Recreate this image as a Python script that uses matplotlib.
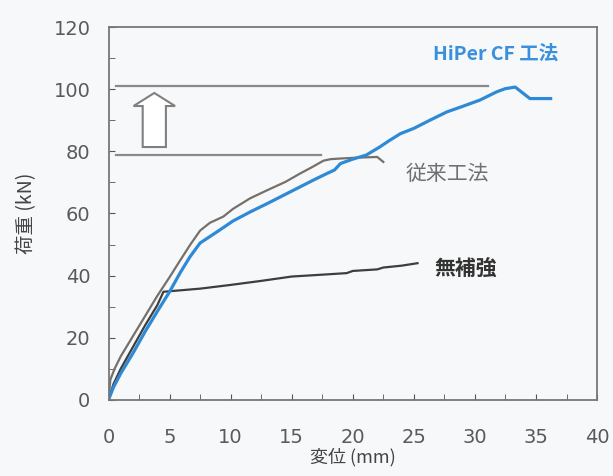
import matplotlib.pyplot as plt
from matplotlib.patches import FancyArrow
from matplotlib.ticker import MultipleLocator

plt.rcParams['font.family'] = ['Noto Sans CJK JP', 'DejaVu Sans']

# HiPer CF 工法
hiper_x = [0, 0.4, 1.0, 2.0, 2.5, 3.0, 4.0, 5.0, 5.85, 6.66, 7.5, 8.85, 10.2, 11.6,
           13.0, 14.4, 15.7, 16.8, 17.9, 18.5, 19.0, 20.0, 21.1, 22.2, 23.0, 23.9, 25.0,
           26.3, 27.7, 29.0, 30.4, 31.8, 32.5, 33.3, 34.5, 36.2]
hiper_y = [0, 4, 8.5, 15, 18.5, 22, 28.5, 34.8, 40.8, 46, 50.5, 54, 57.6, 60.5,
           63.2, 66, 68.6, 70.8, 72.9, 74, 76.1, 77.5, 78.8, 81.4, 83.5, 85.7, 87.4,
           90, 92.7, 94.5, 96.5, 99.2, 100.2, 100.7, 97, 97]

# 従来工法
conv_x = [0, 0.15, 0.5, 1.0, 2.0, 3.0, 4.0, 5.0, 5.85, 6.7, 7.5, 8.3, 9.4, 10.2,
          11.6, 13.0, 14.5, 15.7, 16.7, 17.6, 18.2, 19.0, 20.5, 22.0, 22.5]
conv_y = [0, 6.5, 10, 14, 20.5, 27, 33.5, 39.5, 44.8, 50, 54.5, 57, 59, 61.5,
          64.9, 67.5, 70.2, 72.9, 75.0, 77.0, 77.5, 77.7, 78.0, 78.2, 76.6]

# 無補強
none_x = [0, 0.4, 1.0, 2.0, 3.0, 4.0, 4.5, 7.5, 10.0, 12.5, 15.0, 17.5, 19.5, 20.0, 22.0,
          22.5, 24.0, 25.3]
none_y = [0, 5, 10, 17, 24, 30.5, 34.8, 35.8, 37, 38.3, 39.7, 40.3, 40.8, 41.5, 42,
          42.6, 43.2, 44]

# 耐力レベル
level_x0 = [0.6, 0.6]
level_x1 = [31.1, 17.4]
level_y = [101.0, 78.8]

fig = plt.figure(figsize=(6.13, 4.76), dpi=100, facecolor='#f6f8f9')
ax = fig.add_axes([0.177, 0.16, 0.797, 0.783])
ax.set_facecolor('#f6f8f9')

for x0, x1, y in zip(level_x0, level_x1, level_y):
    ax.plot([x0, x1], [y, y], color='#8a8a8a', lw=1.6)

ax.add_patch(FancyArrow(3.75, 81.4, 0, 17.4, width=1.9, head_width=3.4, head_length=4.2,
                        length_includes_head=True, facecolor='white',
                        edgecolor='#808080', lw=1.5))

ax.plot(conv_x, conv_y, color='#77706a', lw=1.6)
ax.plot(none_x, none_y, color='#3e3e3e', lw=1.6)
ax.plot(hiper_x, hiper_y, color='#2f8ad6', lw=2.3)

ax.text(36.8, 111.4, 'HiPer CF 工法', color='#3a90dc', fontsize=14,
        ha='right', va='center', fontweight='bold')
ax.text(24.3, 72.8, '従来工法', color='#707070', fontsize=15, ha='left', va='center')
ax.text(26.7, 42.4, '無補強', color='#333333', fontsize=15, ha='left', va='center',
        fontweight='bold')

ax.set_xlim(0, 40)
ax.set_ylim(0, 120)
ax.xaxis.set_major_locator(MultipleLocator(5))
ax.xaxis.set_minor_locator(MultipleLocator(2.5))
ax.yaxis.set_major_locator(MultipleLocator(20))
ax.yaxis.set_minor_locator(MultipleLocator(10))
ax.tick_params(which='both', direction='in', length=4, color='#555555',
               top=False, right=False)
ax.tick_params(axis='y', which='major', labelsize=14, labelcolor='#5a5a5a', pad=13)
ax.tick_params(axis='x', which='major', labelsize=14, labelcolor='#5a5a5a', pad=20)
for lab in ax.get_xticklabels() + ax.get_yticklabels():
    lab.set_family('DejaVu Sans')
for s in ax.spines.values():
    s.set_color('#777777')
    s.set_linewidth(1.3)

ax.set_xlabel('変位 (mm)', fontsize=13, color='#444444', labelpad=1)
ax.set_ylabel('荷重 (kN)', fontsize=14, color='#444444', labelpad=12)

plt.savefig('out.png', dpi=100, facecolor=fig.get_facecolor())
